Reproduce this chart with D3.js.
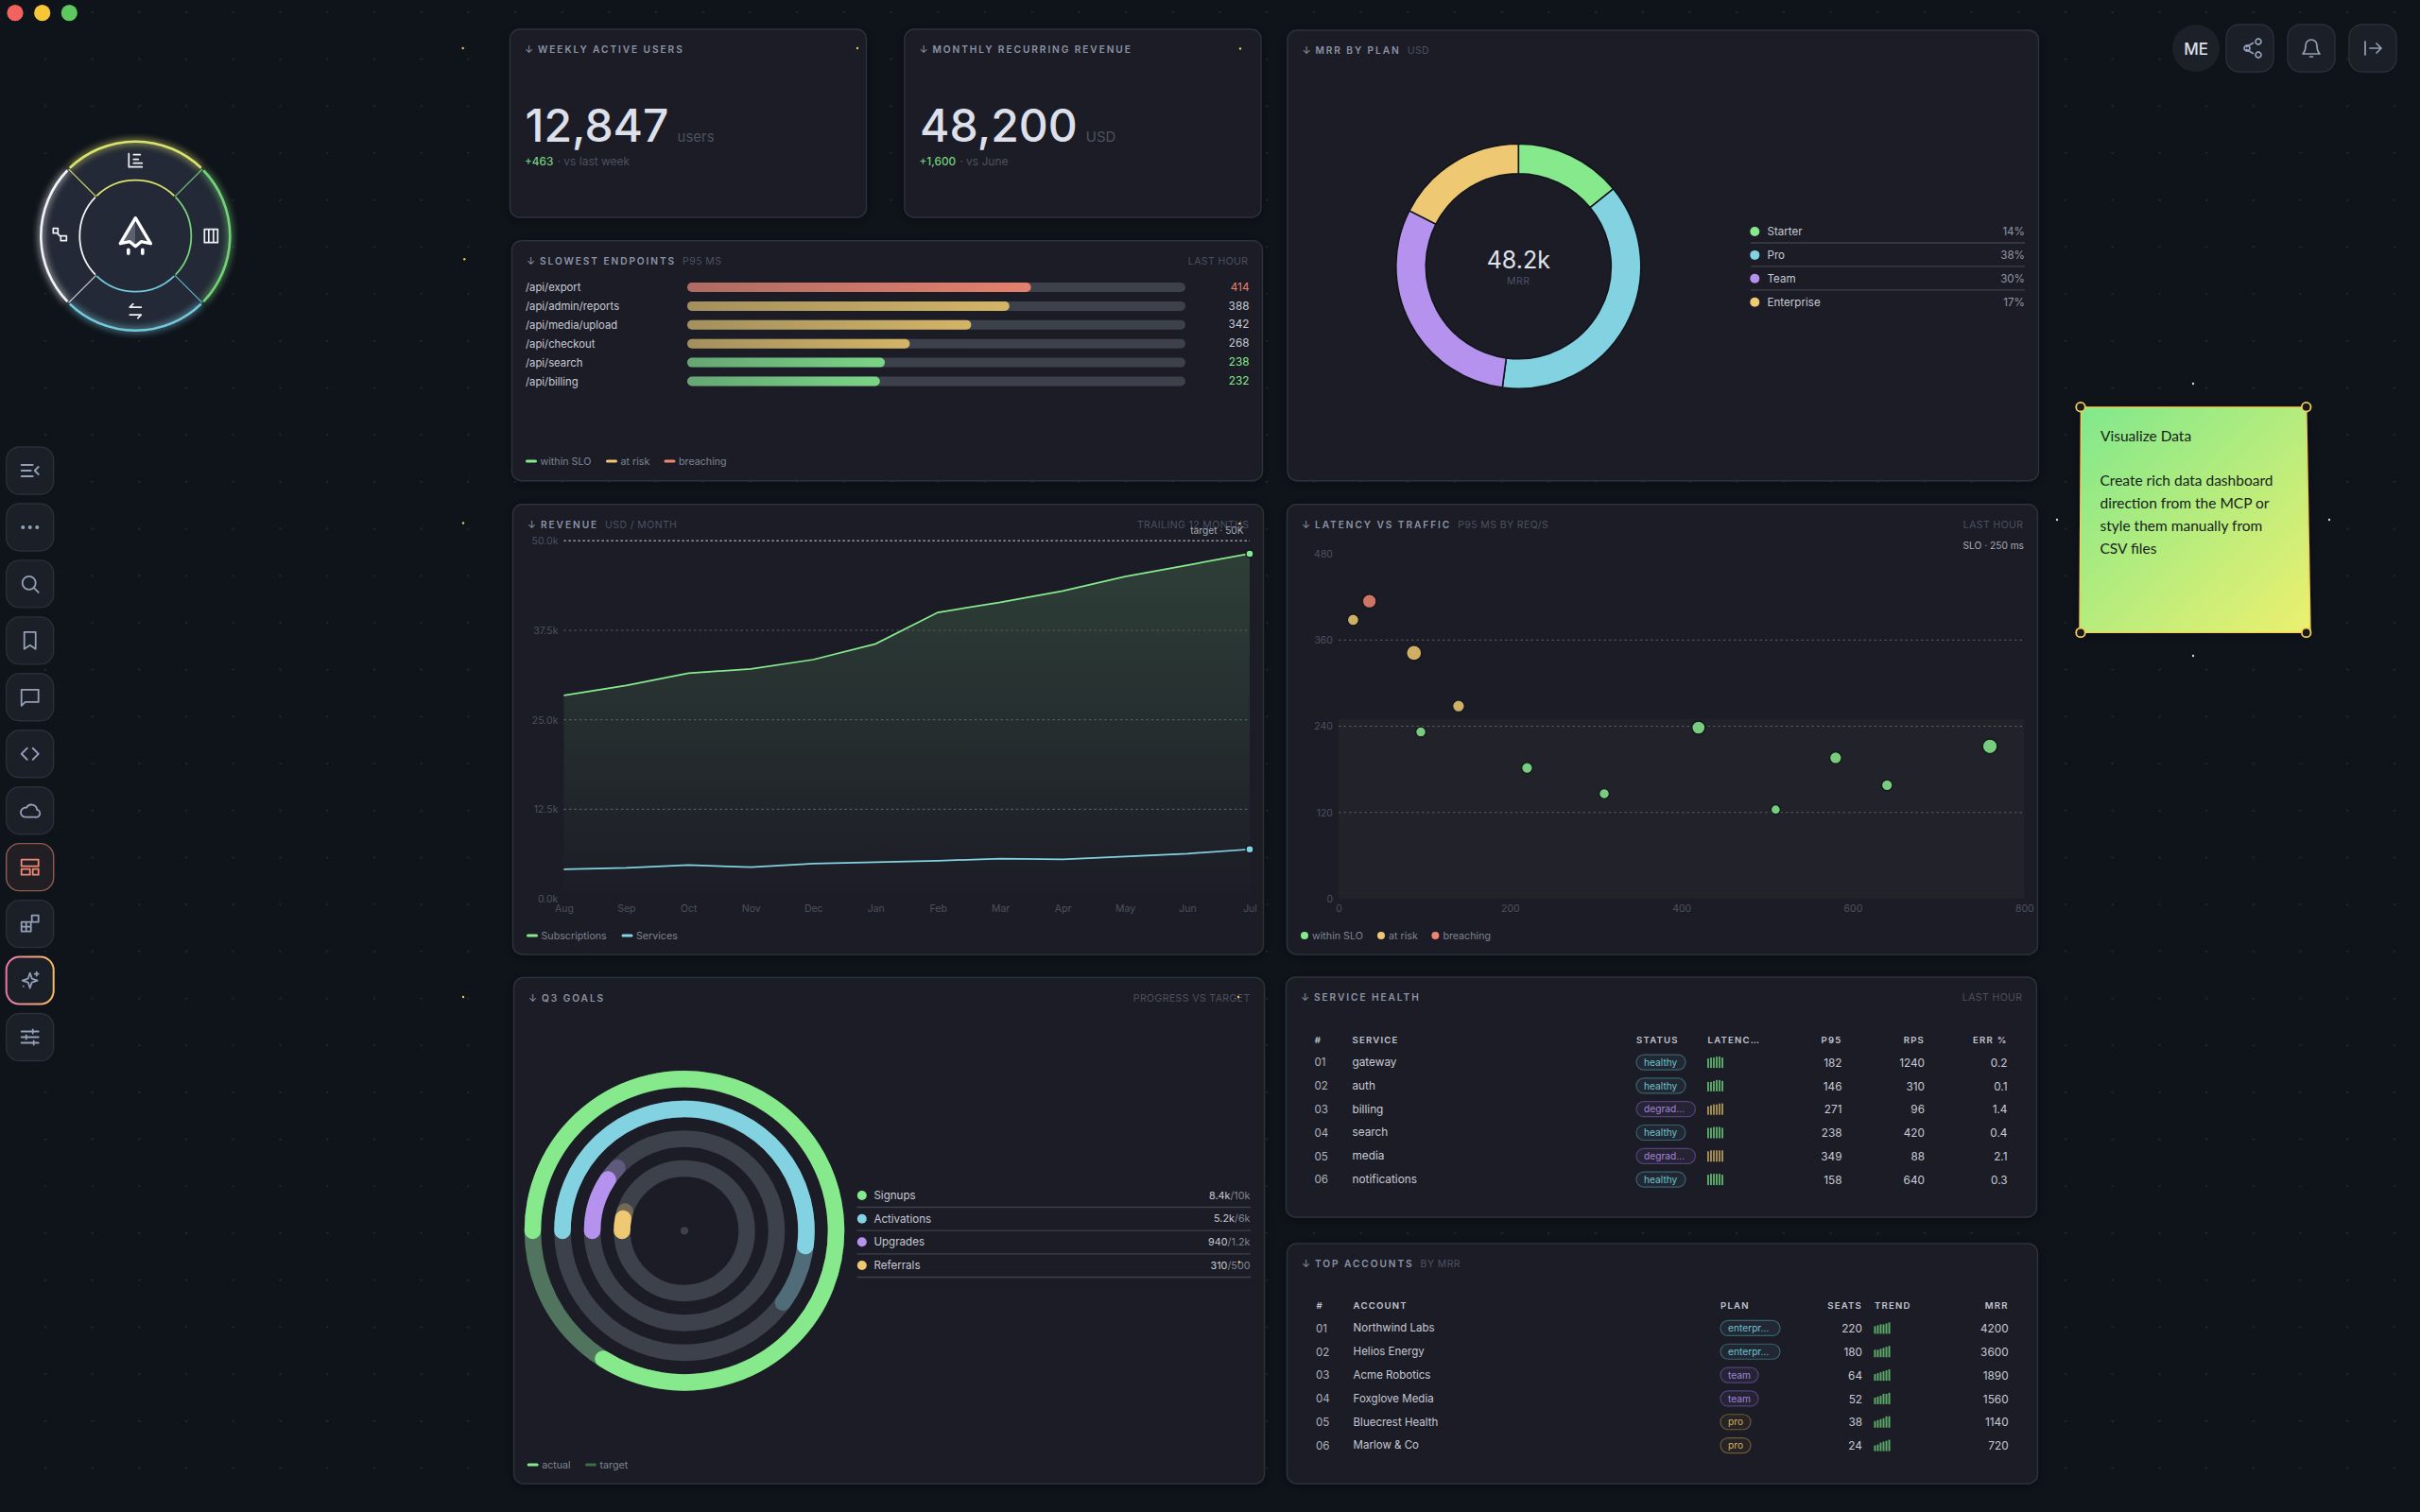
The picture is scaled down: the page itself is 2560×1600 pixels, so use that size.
<!DOCTYPE html>
<html>
<head>
<meta charset="utf-8">
<title>Dashboard</title>
<script src="https://cdn.jsdelivr.net/npm/d3@7"></script>
<style>
  html, body { margin: 0; padding: 0; background: #0f1219; }
  svg { display: block; font-family: Inter, "Noto Sans", sans-serif; }
</style>
</head>
<body>
<script>
// Data
const months = ["Aug", "Sep", "Oct", "Nov", "Dec", "Jan", "Feb", "Mar", "Apr", "May", "Jun", "Jul"];
const subscriptions = [28.4, 29.8, 31.5, 32.1, 33.4, 35.6, 40.0, 41.4, 43.0, 45.0, 46.6, 48.2];
const services = [4.1, 4.3, 4.7, 4.4, 4.9, 5.1, 5.3, 5.6, 5.5, 5.9, 6.3, 6.9];
const revenueTicks = [0, 12.5, 25, 37.5, 50];

const endpoints = ["/api/export", "/api/admin/reports", "/api/media/upload", "/api/checkout", "/api/search", "/api/billing"];
const endpointP95 = [414, 388, 342, 268, 238, 232];
const endpointState = ["breaching", "risk", "risk", "risk", "ok", "ok"];

const plans = ["Starter", "Pro", "Team", "Enterprise"];
const planShare = [14.1, 38.0, 30.4, 17.5];
const planLabels = ["14%", "38%", "30%", "17%"];

const scatterRps = [36, 17, 88, 140, 96, 220, 310, 420, 510, 580, 640, 760];
const scatterP95 = [414, 388, 342, 268, 232, 182, 146, 238, 124, 196, 158, 212];
const scatterSize = [7.3, 6, 8, 6.3, 5.4, 5.8, 5.4, 7, 5, 6.3, 5.8, 7.8];
const scatterState = ["breaching", "risk", "risk", "risk", "ok", "ok", "ok", "ok", "ok", "ok", "ok", "ok"];
const latencyXTicks = [0, 200, 400, 600, 800];
const latencyYTicks = [0, 120, 240, 360, 480];

const goals = ["Signups", "Activations", "Upgrades", "Referrals"];
const goalActual = [8400, 5200, 940, 310];
const goalTarget = [10000, 6000, 1200, 500];
const goalActualText = ["8.4k", "5.2k", "940", "310"];
const goalTargetText = ["/10k", "/6k", "/1.2k", "/500"];

const svcNames = ["gateway", "auth", "billing", "search", "media", "notifications"];
const svcStatus = ["healthy", "healthy", "degrad…", "healthy", "degrad…", "healthy"];
const svcP95 = [182, 146, 271, 238, 349, 158];
const svcRps = [1240, 310, 96, 420, 88, 640];
const svcErr = ["0.2", "0.1", "1.4", "0.4", "2.1", "0.3"];
const svcSpark = [
  [10, 11, 11, 12, 12, 11],
  [10, 10, 11, 12, 12, 11],
  [9, 10, 11, 11, 12, 12],
  [11, 11, 12, 12, 12, 11],
  [11, 12, 12, 12, 12, 12],
  [11, 12, 12, 12, 12, 11]
];

const accNames = ["Northwind Labs", "Helios Energy", "Acme Robotics", "Foxglove Media", "Bluecrest Health", "Marlow & Co"];
const accPlan = ["enterpr…", "enterpr…", "team", "team", "pro", "pro"];
const accSeats = [220, 180, 64, 52, 38, 24];
const accMrr = [4200, 3600, 1890, 1560, 1140, 720];
const accTrend = [
  [8, 9, 10, 10, 11, 12],
  [8, 8, 9, 10, 11, 12],
  [7, 8, 9, 10, 11, 12],
  [7, 8, 9, 11, 11, 12],
  [7, 8, 9, 10, 12, 12],
  [6, 7, 9, 10, 11, 12]
];

// Colours
const GREEN = "#86ea8c", CYAN = "#82d2e2", PURPLE = "#b492ee", AMBER = "#eec872", RED = "#ee8572";
const stateColor = { ok: GREEN, risk: AMBER, breaching: RED };
const barColor = { ok: "#7ad586", risk: "#d4b566", breaching: "#e5806d" };
const C_CARD = "#1a1f28", C_TRACK = "#3c414b", C_DIM = "#4b5261", C_MID = "#7d8594", C_TEXT = "#c6cad4";

const svg = d3.select("body").append("svg").attr("width", 2560).attr("height", 1600);
const defs = svg.append("defs");

// Dotted canvas background
const dotGrid = defs.append("pattern").attr("id", "dots").attr("patternUnits", "userSpaceOnUse")
  .attr("x", 23).attr("y", 12).attr("width", 49.7).attr("height", 49.7);
dotGrid.append("circle").attr("cx", 25).attr("cy", 0.5).attr("r", 1.2).attr("fill", "#252a33");
svg.append("rect").attr("width", 2560).attr("height", 1600).attr("fill", "#0f131a");
svg.append("rect").attr("width", 2560).attr("height", 1600).attr("fill", "url(#dots)");

const shadow = defs.append("filter").attr("id", "shadow").attr("x", "-10%").attr("y", "-10%").attr("width", "120%").attr("height", "120%");
shadow.append("feDropShadow").attr("dx", 0).attr("dy", 2).attr("stdDeviation", 6).attr("flood-color", "#000").attr("flood-opacity", 0.3);
const glow = defs.append("filter").attr("id", "glow").attr("x", "-30%").attr("y", "-30%").attr("width", "160%").attr("height", "160%");
glow.append("feGaussianBlur").attr("stdDeviation", 3.5);

function hGradient(id, from, to, fromOpacity) {
  const g = defs.append("linearGradient").attr("id", id);
  g.append("stop").attr("offset", "0%").attr("stop-color", from).attr("stop-opacity", fromOpacity);
  g.append("stop").attr("offset", "100%").attr("stop-color", to);
  return "url(#" + id + ")";
}

function text(parent, x, y, str, size, color, opts) {
  opts = opts || {};
  return parent.append("text")
    .attr("x", x).attr("y", y).text(str)
    .attr("font-size", size).attr("fill", color)
    .attr("text-anchor", opts.anchor || "start")
    .attr("font-weight", opts.weight || 400)
    .attr("letter-spacing", opts.spacing || 0);
}

// Card shell plus the header row every card shares
function card(x, y, w, h, title, sub, right) {
  const g = svg.append("g");
  g.append("rect").attr("x", x).attr("y", y).attr("width", w).attr("height", h).attr("rx", 10)
    .attr("fill", C_CARD).attr("stroke", "#2c313b").attr("stroke-width", 1.4).attr("filter", "url(#shadow)");
  const base = y + 25.4;
  text(g, x + 15.5, base, "↓", 11, "#8b94a5", { weight: 400 });
  const t = text(g, x + 29.5, base, title, 10.2, "#8b94a5", { weight: 600, spacing: 1.9 });
  if (sub) text(g, x + 29.5 + t.node().getComputedTextLength() + 7, base, sub, 10.5, C_DIM, { spacing: 0.4 });
  if (right) text(g, x + w - 15, base, right, 10.5, C_DIM, { anchor: "end", spacing: 0.4 });
  return g;
}

function swatchLegend(g, y, items) {
  items.forEach(d => {
    g.append("rect").attr("x", d.x).attr("y", y - 1.5).attr("width", 12).attr("height", 3).attr("rx", 1.5).attr("fill", d.color);
    text(g, d.x + 15.5, y + 3.6, d.label, 10.7, C_MID);
  });
}

function pill(g, x, cy, label, w, kind) {
  const styles = {
    teal: ["#37626d", "#6ec3d0", "rgba(110,195,208,0.08)"],
    purple: ["#54417a", "#a483da", "rgba(164,131,218,0.08)"],
    amber: ["#6b5b31", "#d2ae58", "rgba(210,174,88,0.06)"]
  }[kind];
  g.append("rect").attr("x", x).attr("y", cy - 8).attr("width", w).attr("height", 16).attr("rx", 8)
    .attr("fill", styles[2]).attr("stroke", styles[0]).attr("stroke-width", 1.2);
  text(g, x + 8, cy + 3.6, label, 10.2, styles[1]);
}

function sparkBars(g, x, cy, values, color) {
  const bx = d3.scaleBand().domain(d3.range(values.length)).range([x, x + 17]).paddingInner(0.36);
  const by = d3.scaleLinear().domain([0, 12]).range([0, 12]);
  g.selectAll(null).data(values).join("rect")
    .attr("x", (d, i) => bx(i)).attr("width", bx.bandwidth())
    .attr("y", d => cy + 6 - by(d)).attr("height", d => by(d))
    .attr("fill", color);
}

// Stat cards
function statCard(x, title, value, unit, delta, note) {
  const g = card(x, 31, 377, 199, title);
  const big = text(g, x + 16, 150, value, 48, "#dde0ea", { weight: 500 });
  text(g, x + 16 + big.node().getComputedTextLength() + 9, 150, unit, 15, C_DIM);
  const d = text(g, x + 15.5, 175, delta, 11.8, "#72cf7c", { weight: 500 });
  text(g, x + 15.5 + d.node().getComputedTextLength() + 4, 175, "· " + note, 12, C_DIM);
}
statCard(539.5, "WEEKLY ACTIVE USERS", "12,847", "users", "+463", "vs last week");
statCard(957, "MONTHLY RECURRING REVENUE", "48,200", "USD", "+1,600", "vs June");

// Slowest endpoints
{
  const g = card(541.5, 254.7, 794, 254, "SLOWEST ENDPOINTS", "P95 MS", "LAST HOUR");
  const rowY = d3.scaleLinear().domain([0, 5]).range([304, 403.5]);
  const x = d3.scaleLinear().domain([0, 600]).range([727, 1254]);
  ["ok", "risk", "breaching"].forEach(k => hGradient("bar-" + k, barColor[k], barColor[k], 0.68));
  g.selectAll(null).data(endpoints).join("rect")
    .attr("x", x(0)).attr("y", (d, i) => rowY(i) - 5).attr("width", x(600) - x(0)).attr("height", 10).attr("rx", 5)
    .attr("fill", C_TRACK);
  g.selectAll(null).data(endpointP95).join("rect")
    .attr("x", x(0)).attr("y", (d, i) => rowY(i) - 5).attr("width", d => x(d) - x(0)).attr("height", 10).attr("rx", 5)
    .attr("fill", (d, i) => "url(#bar-" + endpointState[i] + ")");
  endpoints.forEach((name, i) => {
    text(g, 556, rowY(i) + 4, name, 11.3, C_TEXT);
    const c = endpointState[i] === "breaching" ? "#e5806d" : endpointState[i] === "ok" ? GREEN : C_TEXT;
    text(g, 1321.5, rowY(i) + 3.6, endpointP95[i], 11.8, c, { anchor: "end" });
  });
  swatchLegend(g, 488, [
    { x: 556, color: GREEN, label: "within SLO" },
    { x: 641, color: AMBER, label: "at risk" },
    { x: 702.5, color: RED, label: "breaching" }
  ]);
}

// MRR by plan donut
{
  const g = card(1362, 32, 794.5, 476.7, "MRR BY PLAN", "USD");
  const planColor = d3.scaleOrdinal().domain(plans).range([GREEN, CYAN, PURPLE, AMBER]);
  const pie = d3.pie().sort(null).value(d => d.share)(plans.map((p, i) => ({ plan: p, share: planShare[i] })));
  const arc = d3.arc().innerRadius(98).outerRadius(129.5);
  const donut = g.append("g").attr("transform", "translate(1606.3,281.7)");
  donut.selectAll("path").data(pie).join("path")
    .attr("d", arc).attr("fill", d => planColor(d.data.plan))
    .attr("stroke", "#12151b").attr("stroke-width", 1.6);
  text(donut, 0, 2.6, "48.2k", 25, "#e0e3ec", { anchor: "middle", weight: 400 });
  text(donut, 0, 19, "MRR", 10.5, C_DIM, { anchor: "middle", spacing: 0.5 });
  const rowY = d3.scaleLinear().domain([0, 3]).range([245, 319.7]);
  plans.forEach((p, i) => {
    g.append("circle").attr("cx", 1856.3).attr("cy", rowY(i)).attr("r", 5).attr("fill", planColor(p));
    text(g, 1869.5, rowY(i) + 4, p, 11.6, C_TEXT);
    text(g, 2142, rowY(i) + 4, planLabels[i], 11.6, "#8f96a5", { anchor: "end" });
    if (i < 3) g.append("line").attr("x1", 1852).attr("x2", 2142).attr("y1", rowY(i) + 12).attr("y2", rowY(i) + 12).attr("stroke", C_TRACK).attr("stroke-width", 1.3);
  });
}

function styleAxis(axis) {
  axis.select(".domain").remove();
  axis.selectAll("text").attr("fill", C_DIM).attr("font-size", 10.5).attr("font-family", "Inter, 'Noto Sans', sans-serif");
}

// Revenue lines
{
  const g = card(542.5, 533.7, 794, 476.3, "REVENUE", "USD / MONTH", "TRAILING 12 MONTHS");
  const x = d3.scalePoint().domain(months).range([596.4, 1322]);
  const y = d3.scaleLinear().domain([0, 50]).range([951, 572.3]);

  const fade = defs.append("linearGradient").attr("id", "revFill").attr("x1", 0).attr("x2", 0).attr("y1", 0).attr("y2", 1);
  fade.append("stop").attr("offset", "0%").attr("stop-color", GREEN).attr("stop-opacity", 0.17);
  fade.append("stop").attr("offset", "100%").attr("stop-color", GREEN).attr("stop-opacity", 0);

  const area = d3.area().x((d, i) => x(months[i])).y0(y(0)).y1(d => y(d));
  g.append("path").datum(subscriptions).attr("d", area).attr("fill", "url(#revFill)");

  g.selectAll(null).data(revenueTicks.slice(1)).join("line")
    .attr("x1", x.range()[0]).attr("x2", x.range()[1]).attr("y1", d => y(d)).attr("y2", d => y(d))
    .attr("stroke", d => d === 50 ? "#9298a3" : "#555b66")
    .attr("stroke-width", d => d === 50 ? 1.5 : 1.1)
    .attr("stroke-dasharray", d => d === 50 ? "2.5 2.5" : "2.5 3");

  const yAxis = g.append("g").attr("transform", "translate(596.4,0)")
    .call(d3.axisLeft(y).tickValues(revenueTicks).tickSize(0).tickPadding(6).tickFormat(d => d.toFixed(1) + "k"));
  styleAxis(yAxis);
  const xAxis = g.append("g").attr("transform", "translate(0,951)")
    .call(d3.axisBottom(x).tickSize(0).tickPadding(7));
  styleAxis(xAxis);

  const line = d3.line().x((d, i) => x(months[i])).y(d => y(d));
  [[subscriptions, GREEN], [services, CYAN]].forEach(([vals, c]) => {
    g.append("path").datum(vals).attr("d", line).attr("fill", "none").attr("stroke", c).attr("stroke-width", 1.7);
    g.append("circle").attr("cx", x("Jul")).attr("cy", y(vals[vals.length - 1])).attr("r", 4)
      .attr("fill", c).attr("stroke", "#12151b").attr("stroke-width", 1.4);
  });
  text(g, 1315.6, 564.5, "target · 50K", 10.2, "#a6acb8", { anchor: "end" });
  swatchLegend(g, 990, [
    { x: 557, color: GREEN, label: "Subscriptions" },
    { x: 657.5, color: CYAN, label: "Services" }
  ]);
}

// Latency scatter
{
  const g = card(1361.5, 533.7, 794, 476.3, "LATENCY VS TRAFFIC", "P95 MS BY REQ/S", "LAST HOUR");
  const x = d3.scaleLinear().domain([0, 800]).range([1416, 2141.3]);
  const y = d3.scaleLinear().domain([0, 480]).range([951, 586]);
  g.append("rect").attr("x", x(0)).attr("y", y(250)).attr("width", x(800) - x(0)).attr("height", y(0) - y(250))
    .attr("fill", "#fff").attr("fill-opacity", 0.028);
  g.selectAll(null).data([120, 240, 360]).join("line")
    .attr("x1", x(0)).attr("x2", x(800)).attr("y1", d => y(d)).attr("y2", d => y(d))
    .attr("stroke", "#555b66").attr("stroke-width", 1.1).attr("stroke-dasharray", "2.5 3");
  styleAxis(g.append("g").attr("transform", "translate(1416,0)")
    .call(d3.axisLeft(y).tickValues(latencyYTicks).tickSize(0).tickPadding(6)));
  styleAxis(g.append("g").attr("transform", "translate(0,951)")
    .call(d3.axisBottom(x).tickValues(latencyXTicks).tickSize(0).tickPadding(7)));
  g.selectAll(null).data(scatterRps).join("circle")
    .attr("cx", d => x(d)).attr("cy", (d, i) => y(scatterP95[i])).attr("r", (d, i) => scatterSize[i])
    .attr("fill", (d, i) => stateColor[scatterState[i]]).attr("fill-opacity", 0.85)
    .attr("stroke", "#12151b").attr("stroke-width", 1.3);
  text(g, 2141, 580.5, "SLO · 250 ms", 10.2, "#a6acb8", { anchor: "end" });
  [[1380, GREEN, "within SLO"], [1461, AMBER, "at risk"], [1518.4, RED, "breaching"]].forEach(([lx, c, label]) => {
    g.append("circle").attr("cx", lx).attr("cy", 990).attr("r", 4).attr("fill", c);
    text(g, lx + 8, 993.6, label, 10.7, C_MID);
  });
}

// Q3 goals rings, all measured against the biggest target
{
  const g = card(543.6, 1034.5, 794, 535.5, "Q3 GOALS", null, "PROGRESS VS TARGET");
  const ringColor = [GREEN, CYAN, PURPLE, AMBER];
  const ringRadius = [160.5, 129, 97.5, 66];
  const ringWidth = 17.5;
  const start = -Math.PI / 2;
  const angle = d3.scaleLinear().domain([0, d3.max(goalTarget)]).range([start, start + 2 * Math.PI]);
  const rings = g.append("g").attr("transform", "translate(724,1302.4)")
    .attr("fill", "none").attr("stroke-width", ringWidth).attr("stroke-linejoin", "round");
  goals.forEach((name, i) => {
    const arc = d3.arc().innerRadius(ringRadius[i]).outerRadius(ringRadius[i]).startAngle(start);
    rings.append("path").attr("d", arc.endAngle(start + 2 * Math.PI)()).attr("stroke", C_TRACK);
    rings.append("path").attr("d", arc.endAngle(angle(goalTarget[i]))())
      .attr("stroke", ringColor[i]).attr("stroke-opacity", 0.3);
    rings.append("path").attr("d", arc.endAngle(angle(goalActual[i]))()).attr("stroke", ringColor[i]);
  });
  rings.append("circle").attr("r", 4.2).attr("fill", C_TRACK).attr("stroke", "none");

  const rowY = d3.scaleLinear().domain([0, 3]).range([1265, 1339]);
  goals.forEach((name, i) => {
    g.append("circle").attr("cx", 911.8).attr("cy", rowY(i)).attr("r", 5).attr("fill", ringColor[i]);
    text(g, 924.4, rowY(i) + 4, name, 11.6, C_TEXT);
    const t = text(g, 1322.5, rowY(i) + 3.6, "", 10.8, C_TEXT, { anchor: "end" });
    t.append("tspan").text(goalActualText[i]);
    t.append("tspan").attr("fill", "#7d8594").text(goalTargetText[i]);
    g.append("line").attr("x1", 906.6).attr("x2", 1323).attr("y1", rowY(i) + 12.5).attr("y2", rowY(i) + 12.5)
      .attr("stroke", C_TRACK).attr("stroke-width", 1.3);
  });
  swatchLegend(g, 1550, [
    { x: 557.7, color: GREEN, label: "actual" },
    { x: 619, color: "#3e6b4b", label: "target" }
  ]);
}

// Tables
function tableHeader(g, y, cols) {
  cols.forEach(c => text(g, c.x, y, c.label, 9.6, "#c0c5d0", { weight: 600, spacing: 1.2, anchor: c.end ? "end" : "start" }));
}

{
  const g = card(1360.5, 1034, 794, 254, "SERVICE HEALTH", null, "LAST HOUR");
  tableHeader(g, 1103.6, [
    { x: 1390.8, label: "#" }, { x: 1430.5, label: "SERVICE" }, { x: 1731, label: "STATUS" }, { x: 1806.6, label: "LATENC…" },
    { x: 1948.5, label: "P95", end: true }, { x: 2036, label: "RPS", end: true }, { x: 2123.5, label: "ERR %", end: true }
  ]);
  const rowY = d3.scaleBand().domain(svcNames).range([1111.7, 1260.5]);
  const cy = name => rowY(name) + rowY.bandwidth() / 2;
  svcNames.forEach((name, i) => {
    const yy = cy(name), bad = svcStatus[i] !== "healthy";
    text(g, 1390.5, yy + 4.3, d3.format("02")(i + 1), 11.6, "#aeb3bf");
    text(g, 1430.5, yy + 3.8, name, 11.8, C_TEXT);
    pill(g, 1731, yy, svcStatus[i], bad ? 62.5 : 52, bad ? "purple" : "teal");
    sparkBars(g, 1806, yy, svcSpark[i], bad ? "#a68e54" : "#5cab69");
    text(g, 1948.5, yy + 4.6, svcP95[i], 11.8, C_TEXT, { anchor: "end" });
    text(g, 2036, yy + 4.6, svcRps[i], 11.8, C_TEXT, { anchor: "end" });
    text(g, 2123.5, yy + 4.6, svcErr[i], 11.8, C_TEXT, { anchor: "end" });
  });
}

{
  const g = card(1361.5, 1316, 794, 254, "TOP ACCOUNTS", "BY MRR");
  tableHeader(g, 1385, [
    { x: 1392.4, label: "#" }, { x: 1431.6, label: "ACCOUNT" }, { x: 1820, label: "PLAN" },
    { x: 1970, label: "SEATS", end: true }, { x: 1983, label: "TREND" }, { x: 2124.6, label: "MRR", end: true }
  ]);
  const rowY = d3.scaleBand().domain(accNames).range([1393, 1542]);
  const planStyle = { "enterpr…": [63, "teal"], team: [40, "purple"], pro: [32, "amber"] };
  accNames.forEach((name, i) => {
    const yy = rowY(name) + rowY.bandwidth() / 2;
    text(g, 1392, yy + 4.3, d3.format("02")(i + 1), 11.6, "#aeb3bf");
    text(g, 1431.6, yy + 3.8, name, 11.5, C_TEXT);
    pill(g, 1820, yy, accPlan[i], planStyle[accPlan[i]][0], planStyle[accPlan[i]][1]);
    text(g, 1970, yy + 4.6, accSeats[i], 11.8, C_TEXT, { anchor: "end" });
    sparkBars(g, 1982.5, yy, accTrend[i], "#5cab69");
    text(g, 2124.6, yy + 4.6, accMrr[i], 11.8, C_TEXT, { anchor: "end" });
  });
}

// Window controls
[[16, "#f2635f"], [44.7, "#f5c638"], [73.3, "#5fc85f"]].forEach(([cx, c]) => {
  svg.append("circle").attr("cx", cx).attr("cy", 13.7).attr("r", 8.6).attr("fill", c);
});

// Round menu top left
{
  const g = svg.append("g").attr("transform", "translate(143.3,249.7)");
  const sides = [
    { a: -45, color: "#dbe36c" }, { a: 45, color: "#74d277" },
    { a: 135, color: "#74c9dc" }, { a: 225, color: "#f2f3f5" }
  ];
  const rad = d => d * Math.PI / 180;
  const outer = d3.arc().innerRadius(100).outerRadius(100);
  const inner = d3.arc().innerRadius(59).outerRadius(59);
  g.append("circle").attr("r", 100).attr("fill", "#232936");
  sides.forEach(s => {
    const args = { startAngle: rad(s.a + 1), endAngle: rad(s.a + 89) };
    g.append("path").attr("d", outer(args)).attr("fill", "none").attr("stroke", s.color).attr("stroke-width", 6).attr("opacity", 0.55).attr("filter", "url(#glow)");
    g.append("path").attr("d", outer(args)).attr("fill", "none").attr("stroke", s.color).attr("stroke-width", 2.6);
    g.append("path").attr("d", inner(args)).attr("fill", "none").attr("stroke", s.color).attr("stroke-width", 1.8);
    const dx = Math.sin(rad(s.a)), dy = -Math.cos(rad(s.a));
    g.append("line").attr("x1", dx * 59).attr("y1", dy * 59).attr("x2", dx * 100).attr("y2", dy * 100)
      .attr("stroke", s.color).attr("stroke-width", 1.2).attr("opacity", 0.85);
  });
  const mark = g.append("g").attr("fill", "none").attr("stroke", "#fff").attr("stroke-width", 3.4).attr("stroke-linejoin", "round").attr("stroke-linecap", "round");
  mark.append("path").attr("d", "M0 -19L0 11L-6 6L-16 8Z").attr("fill", "#5a6070").attr("stroke", "none");
  mark.append("path").attr("d", "M0 -19L0 11L6 6L16 8Z").attr("fill", "#343a48").attr("stroke", "none");
  mark.append("path").attr("d", "M0 -19L16 8L6 6L0 11L-6 6L-16 8Z");
  mark.append("path").attr("d", "M-7.5 14.5V18.5M7.5 14.5V18.5").attr("stroke-width", 3.6);
  const lines = g.append("g").attr("fill", "none").attr("stroke", "#eef0f4").attr("stroke-width", 1.7)
    .attr("stroke-linecap", "round").attr("stroke-linejoin", "round");
  lines.append("path").attr("transform", "translate(0,-80)").attr("d", "M-7 -7V7H7M-2 -6H5M-2 -1H3M-2 3H7");
  lines.append("path").attr("transform", "translate(80,0)").attr("d", "M-7 -7H7V7H-7ZM-2.5 -7V7M2.5 -7V7");
  lines.append("path").attr("transform", "translate(0,79.5)").attr("d", "M6 -4H-6L-2.5 -7.5M-6 4H6L2.5 7.5");
  lines.append("path").attr("transform", "translate(-80,-1)").attr("d", "M-7 -7H-2V-2H-7ZM1 1H7V6H1ZM-3 -2L1 2");
}

// Left toolbar buttons
const toolIcons = [
  "M3 6H15M3 12H13M3 18H15M21 8L17 12L21 16",
  "M4.5 12H4.6M12 12H12.1M19.5 12H19.6",
  "M18 11A7 7 0 1 1 4 11A7 7 0 1 1 18 11ZM16 16L21 21",
  "M6 3H18V21L12 17L6 21Z",
  "M3 4H21V17H7L3 21Z",
  "M9 6L3 12L9 18M15 6L21 12L15 18",
  "M17.5 19H7A5 5 0 1 1 8.2 9.1A6 6 0 0 1 19.5 11.2A4 4 0 0 1 17.5 19Z",
  "M3 4H21V11H3ZM3 14H12V20H3ZM15 14H21V20H15Z",
  "M3 10H13V20H3ZM3 15H13M8 10V20M14 3H21V10H14Z",
  "M12 4L14 10L20 12L14 14L12 20L10 14L4 12L10 10ZM19 3V7M17 5H21M5 18H5.1",
  "M3 6H21M3 12H21M3 18H21M15 4V8M8 10V14M16 16V20"
];
hGradient("aiStroke", "#e878a8", "#f5bc60", 1);
toolIcons.forEach((d, i) => {
  const cy = 498 + i * 59.95;
  const g = svg.append("g").attr("transform", `translate(31.7,${cy})`);
  const active = i === 7, ai = i === 9;
  g.append("rect").attr("x", -25).attr("y", -25).attr("width", 50).attr("height", 50).attr("rx", 14)
    .attr("fill", active ? "#211e24" : "#1a1f28")
    .attr("stroke", ai ? "url(#aiStroke)" : active ? "#8f5a50" : "#2a2f39")
    .attr("stroke-width", ai ? 2 : 1.4);
  g.append("path").attr("d", d).attr("transform", "translate(-12,-12)")
    .attr("fill", "none").attr("stroke", active ? "#f08a75" : "#94a0b8")
    .attr("stroke-width", i === 1 ? 4 : 1.8).attr("stroke-linecap", "round").attr("stroke-linejoin", "round");
});

// Top right buttons
{
  const me = svg.append("g").attr("transform", "translate(2323,51)");
  me.append("circle").attr("r", 25).attr("fill", "#1c2029");
  text(me, 0, 6.5, "ME", 17, "#dfe2ea", { anchor: "middle", weight: 500 });
  const topIcons = [
    [2380, "M18 5A3 3 0 1 1 18 5.01M6 12A3 3 0 1 1 6 12.01M18 19A3 3 0 1 1 18 19.01M8.6 10.5L15.4 6.5M8.6 13.5L15.4 17.5"],
    [2445, "M6 9A6 6 0 0 1 18 9C18 15 20 17 21 18H3C4 17 6 15 6 9ZM10.5 21H13.5"],
    [2510, "M4 5V19M9 12H21M16 7L21 12L16 17"]
  ];
  topIcons.forEach(([cx, d]) => {
    const g = svg.append("g").attr("transform", `translate(${cx},51)`);
    g.append("rect").attr("x", -25).attr("y", -25).attr("width", 50).attr("height", 50).attr("rx", 14)
      .attr("fill", "#1a1f28").attr("stroke", "#2a2f39").attr("stroke-width", 1.4);
    g.append("path").attr("d", d).attr("transform", "translate(-12,-12)")
      .attr("fill", "none").attr("stroke", "#94a0b8").attr("stroke-width", 1.7)
      .attr("stroke-linecap", "round").attr("stroke-linejoin", "round");
  });
}

// Sticky note on the right
{
  const g = svg.append("g");
  const grad = defs.append("linearGradient").attr("id", "note").attr("x1", 0).attr("y1", 0).attr("x2", 1).attr("y2", 1);
  grad.append("stop").attr("offset", "0%").attr("stop-color", "#80e88c");
  grad.append("stop").attr("offset", "100%").attr("stop-color", "#ecf06e");
  g.append("path").attr("d", "M2201.5 431H2439.7L2444 669.4H2200Z")
    .attr("fill", "url(#note)").attr("stroke", "#f2cf5a").attr("stroke-width", 1.4).attr("filter", "url(#shadow)");
  [[2201, 430.7], [2439.7, 430.7], [2201, 669.4], [2439.7, 669.4]].forEach(([cx, cy]) => {
    g.append("circle").attr("cx", cx).attr("cy", cy).attr("r", 4.8).attr("fill", "#171a1a").attr("stroke", "#f2cf5a").attr("stroke-width", 1.8);
  });
  const noteFont = "Lato, 'Noto Sans', sans-serif";
  text(g, 2222, 466.5, "Visualize Data", 15.5, "#17231a").attr("font-family", noteFont);
  ["Create rich data dashboard", "direction from the MCP or", "style them manually from", "CSV files"].forEach((line, i) => {
    text(g, 2221.5, 514 + i * 24, line, 15.5, "#17231a").attr("font-family", noteFont);
  });
}

// Stray pin dots
[[489.7, 51], [491.3, 274.3], [490, 553.5], [490, 1055], [907, 51], [1312, 51.5], [1311.4, 554], [1310, 1055], [1310.8, 1335.4]].forEach(([cx, cy]) => {
  svg.append("circle").attr("cx", cx).attr("cy", cy).attr("r", 1.2).attr("fill", "#e8c860");
});
[[2320, 406], [2176, 550], [2464, 550], [2320, 694]].forEach(([cx, cy]) => {
  svg.append("circle").attr("cx", cx).attr("cy", cy).attr("r", 1.2).attr("fill", "#cfd6e6");
});
</script>
</body>
</html>
